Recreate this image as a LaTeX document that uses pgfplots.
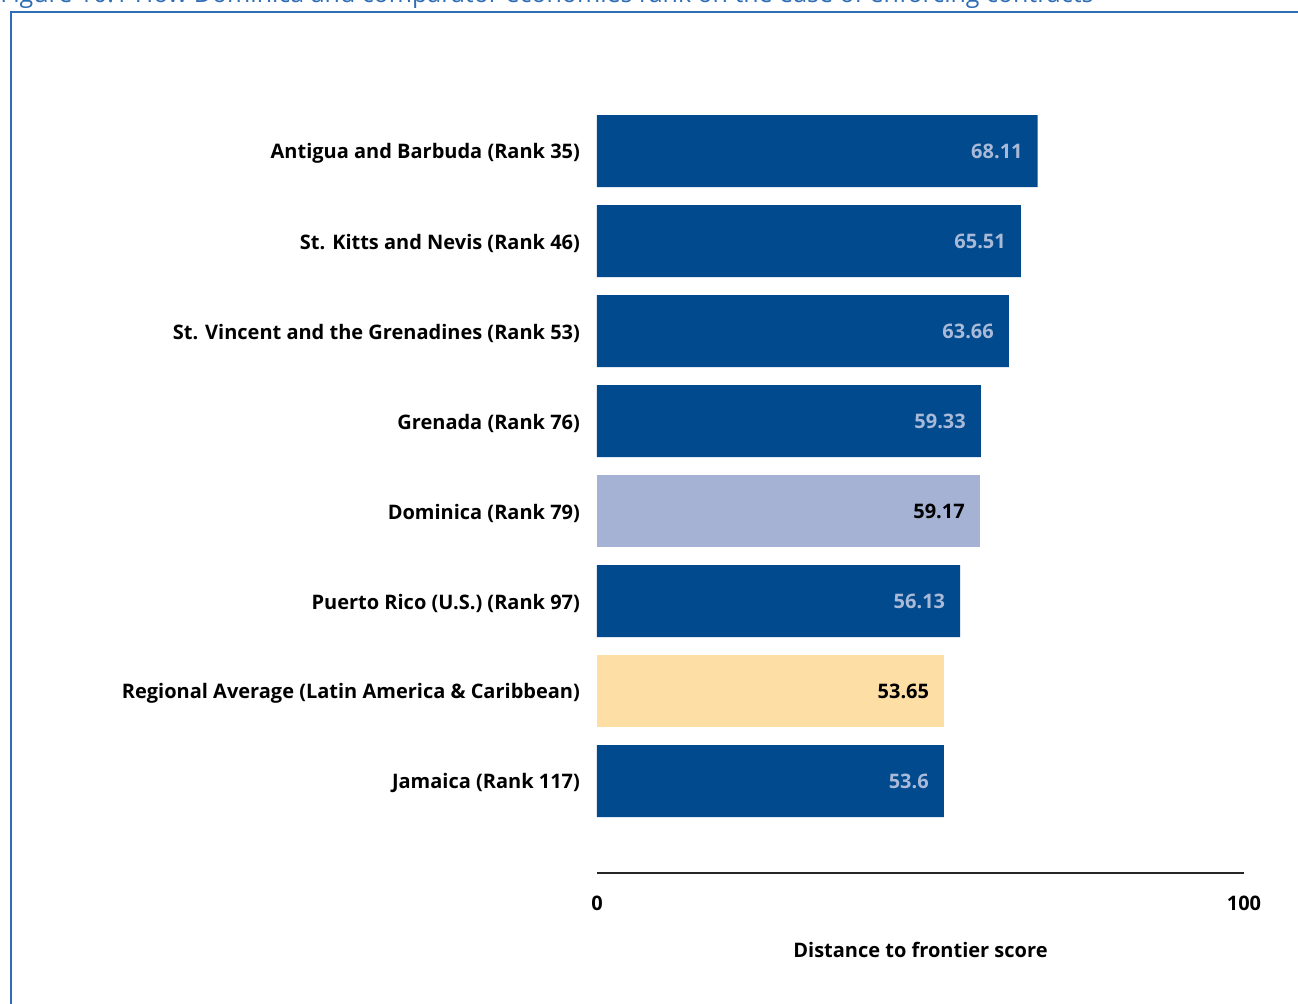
\documentclass[border=0pt]{standalone}
\usepackage{pgfplots}
\pgfplotsset{compat=1.18}
\usepackage{fontspec}
\setmainfont{Open Sans}
\definecolor{dblue}{HTML}{004A8D}
\definecolor{lblue}{HTML}{A5B2D4}
\definecolor{lorange}{HTML}{FDDFA6}
\definecolor{vlab}{HTML}{A9B9D8}
\definecolor{frame}{HTML}{2F6DB5}
\begin{document}
\begin{tikzpicture}
\useasboundingbox (0pt,0pt) rectangle (649pt,-502pt);
\node[anchor=base west,text=frame,font=\fontsize{12.5}{14}\selectfont,inner sep=0] at (0pt,-1.5pt) {Figure 10.1 How Dominica and comparator economies rank on the ease of enforcing contracts};
\draw[frame,line width=0.8pt] (5.5pt,-510pt) -- (5.5pt,-6pt) -- (660pt,-6pt);
\begin{axis}[
  at={(298.5pt,-436.5pt)}, anchor=south west,
  scale only axis, width=323.5pt, height=406pt,
  xmin=0, xmax=100, ymin=-1, ymax=8.02, y dir=reverse,
  axis x line=bottom, axis y line=left,
  x axis line style={-, line width=0.9pt, draw=black!85},
  y axis line style={draw=none},
  major tick length=0pt,
  xtick={0,100},
  ytick={0,...,7},
  yticklabels={Antigua and Barbuda (Rank 35),St. Kitts and Nevis (Rank 46),St. Vincent and the Grenadines (Rank 53),Grenada (Rank 76),Dominica (Rank 79),Puerto Rico (U.S.) (Rank 97),Regional Average (Latin America \& Caribbean),Jamaica (Rank 117)},
  tick label style={font=\fontsize{10}{12}\selectfont\bfseries},
  yticklabel style={xshift=-5pt, yshift=-1pt},
  xticklabel style={yshift=-8pt},
  xlabel={Distance to frontier score},
  xlabel style={font=\fontsize{10}{12}\selectfont\bfseries, yshift=-9pt},
  /pgf/number format/assume math mode=true,
  xbar, bar width=36pt, bar shift=0pt,
  nodes near coords, point meta=explicit symbolic,
  nodes near coords style={anchor=east, xshift=-4pt, font=\fontsize{10}{12}\selectfont\bfseries},
]
\addplot[fill=dblue, draw=none, nodes near coords style={text=vlab}] coordinates {
(68.11,0) [68.11]
(65.51,1) [65.51]
(63.66,2) [63.66]
(59.33,3) [59.33]
(56.13,5) [56.13]
(53.6,7) [53.6]};
\addplot[fill=lblue, draw=none, nodes near coords style={text=black}] coordinates {(59.17,4) [59.17]};
\addplot[fill=lorange, draw=none, nodes near coords style={text=black}] coordinates {(53.65,6) [53.65]};
\end{axis}
\end{tikzpicture}
\end{document}
